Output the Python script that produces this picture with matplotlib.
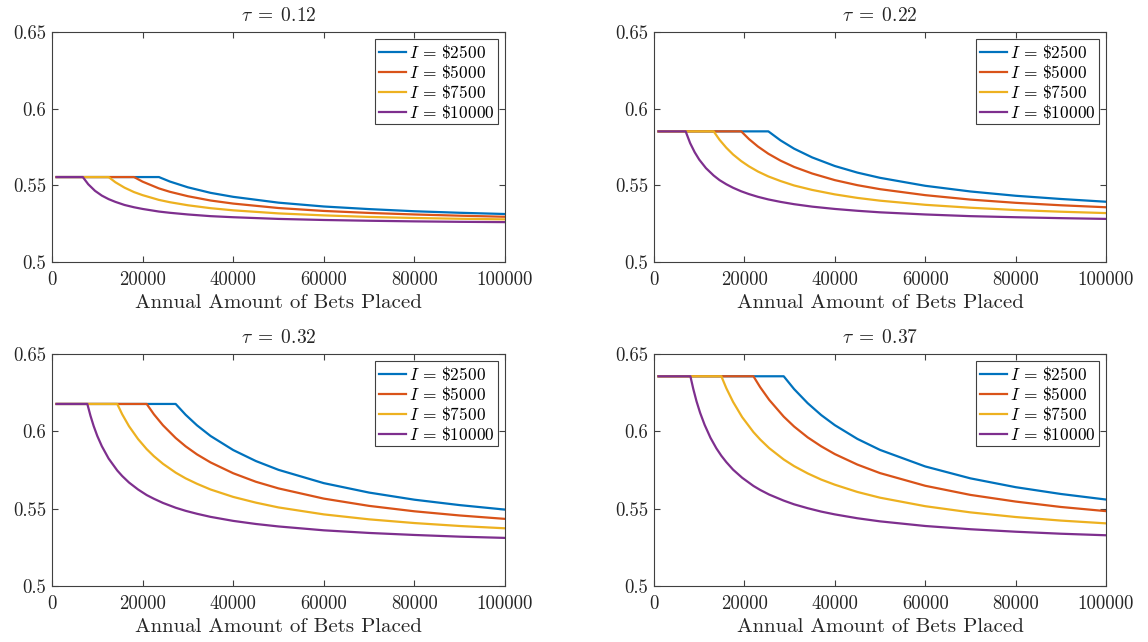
import matplotlib
matplotlib.use("Agg")
import matplotlib.pyplot as plt

plt.rcParams['font.family'] = 'serif'
plt.rcParams['font.serif'] = ['cmr10', 'DejaVu Serif']
plt.rcParams['mathtext.fontset'] = 'cm'
plt.rcParams['axes.formatter.use_mathtext'] = True

# ---------------- data ----------------
taus = [0.12, 0.22, 0.32, 0.37]
incomes = ["2500", "5000", "7500", "10000"]
colors = ["#0072BD", "#D95319", "#EDB120", "#7E2F8E"]
xlabel_text = "Annual Amount of Bets Placed"
xticks = [0, 20000, 40000, 60000, 80000, 100000]
yticks = [0.5, 0.55, 0.6, 0.65]
ytick_labels = ["0.5", "0.55", "0.6", "0.65"]

# tau = 0.12
x_t012 = [1000, 6800, 8000, 9500, 11000, 12500, 14000, 16000, 18100, 20000, 23600,
          26000, 30000, 35000, 40000, 50000, 60000, 70000, 80000, 90000, 100000]
y_t012_2500 = [0.5554, 0.5554, 0.5554, 0.5554, 0.5554, 0.5554, 0.5554, 0.5554, 0.5554, 0.5554, 0.5554,
               0.5525, 0.5487, 0.5451, 0.5425, 0.5387, 0.5362, 0.5345, 0.5331, 0.5321, 0.5313]
y_t012_5000 = [0.5554, 0.5554, 0.5554, 0.5554, 0.5554, 0.5554, 0.5554, 0.5554, 0.5554,
               0.5524, 0.5480, 0.5458, 0.5429, 0.5401, 0.5381, 0.5352, 0.5333, 0.5320, 0.5310, 0.5302, 0.5295]
y_t012_7500 = [0.5554, 0.5554, 0.5554, 0.5554, 0.5554, 0.5554,
               0.5520, 0.5485, 0.5456, 0.5436, 0.5405, 0.5390, 0.5370, 0.5351, 0.5337, 0.5317,
               0.5304, 0.5294, 0.5287, 0.5282, 0.5278]
y_t012_10000 = [0.5554, 0.5554, 0.5507, 0.5464, 0.5433, 0.5410, 0.5392, 0.5372, 0.5357, 0.5346, 0.5329,
                0.5321, 0.5310, 0.5299, 0.5292, 0.5281, 0.5274, 0.5269, 0.5265, 0.5262, 0.5260]

# tau = 0.22
x_t022 = [1000, 7000, 8000, 9000, 10000, 11500, 13200, 14500, 16000, 17500, 19300, 21000, 23000,
          25300, 28000, 31000, 35000, 40000, 45000, 50000, 60000, 70000, 80000, 90000, 100000]
y_t022_2500 = [0.5852, 0.5852, 0.5852, 0.5852, 0.5852, 0.5852, 0.5852, 0.5852, 0.5852, 0.5852, 0.5852,
               0.5852, 0.5852, 0.5852,
               0.5793, 0.5739, 0.5682, 0.5626, 0.5583, 0.5549, 0.5497, 0.5460, 0.5432, 0.5411, 0.5393]
y_t022_5000 = [0.5852, 0.5852, 0.5852, 0.5852, 0.5852, 0.5852, 0.5852, 0.5852, 0.5852, 0.5852, 0.5852,
               0.5802, 0.5753, 0.5706, 0.5661, 0.5620, 0.5577, 0.5534, 0.5501, 0.5475, 0.5436,
               0.5407, 0.5386, 0.5370, 0.5357]
y_t022_7500 = [0.5852, 0.5852, 0.5852, 0.5852, 0.5852, 0.5852, 0.5852,
               0.5797, 0.5745, 0.5701, 0.5658, 0.5624, 0.5590, 0.5558, 0.5528, 0.5499, 0.5470,
               0.5441, 0.5418, 0.5400, 0.5373, 0.5354, 0.5339, 0.5328, 0.5319]
y_t022_10000 = [0.5852, 0.5852, 0.5775, 0.5716, 0.5668, 0.5612, 0.5564, 0.5534, 0.5507, 0.5484, 0.5461,
                0.5443, 0.5425, 0.5408, 0.5392, 0.5377, 0.5361, 0.5346, 0.5334, 0.5324, 0.5310,
                0.5299, 0.5292, 0.5286, 0.5281]

# tau = 0.32
x_t032 = [1000, 7800, 8500, 9200, 10000, 11000, 12500, 14400, 15500, 17000, 19000, 20900, 22500,
          24500, 27300, 29500, 32000, 35000, 40000, 45000, 50000, 60000, 70000, 80000, 90000, 100000]
y_t032_2500 = [0.6177, 0.6177, 0.6177, 0.6177, 0.6177, 0.6177, 0.6177, 0.6177, 0.6177, 0.6177, 0.6177,
               0.6177, 0.6177, 0.6177, 0.6177,
               0.6107, 0.6039, 0.5970, 0.5879, 0.5808, 0.5751, 0.5665, 0.5604, 0.5558, 0.5523, 0.5494]
y_t032_5000 = [0.6177, 0.6177, 0.6177, 0.6177, 0.6177, 0.6177, 0.6177, 0.6177, 0.6177, 0.6177, 0.6177,
               0.6177,
               0.6110, 0.6039, 0.5957, 0.5903, 0.5851, 0.5799, 0.5729, 0.5674, 0.5631, 0.5565,
               0.5518, 0.5483, 0.5456, 0.5434]
y_t032_7500 = [0.6177, 0.6177, 0.6177, 0.6177, 0.6177, 0.6177, 0.6177, 0.6177,
               0.6110, 0.6033, 0.5950, 0.5885, 0.5839, 0.5790, 0.5733, 0.5696, 0.5661, 0.5624,
               0.5576, 0.5539, 0.5508, 0.5463, 0.5431, 0.5407, 0.5388, 0.5373]
y_t032_10000 = [0.6177, 0.6177, 0.6100, 0.6034, 0.5970, 0.5904, 0.5824, 0.5747, 0.5711, 0.5669, 0.5624,
                0.5588, 0.5564, 0.5537, 0.5506, 0.5486, 0.5467, 0.5447, 0.5421, 0.5401, 0.5385,
                0.5360, 0.5343, 0.5330, 0.5319, 0.5311]

# tau = 0.37
x_t037 = [1000, 8050, 8700, 9400, 10200, 11200, 12500, 13800, 14900, 16000, 17500, 19500, 22000,
          23500, 25500, 28700, 31000, 34000, 37000, 40000, 45000, 50000, 60000, 70000, 80000,
          90000, 100000]
y_t037_2500 = [0.6356, 0.6356, 0.6356, 0.6356, 0.6356, 0.6356, 0.6356, 0.6356, 0.6356, 0.6356, 0.6356,
               0.6356, 0.6356, 0.6356, 0.6356, 0.6356,
               0.6273, 0.6182, 0.6105, 0.6040, 0.5951, 0.5880, 0.5773, 0.5696, 0.5639, 0.5595, 0.5559]
y_t037_5000 = [0.6356, 0.6356, 0.6356, 0.6356, 0.6356, 0.6356, 0.6356, 0.6356, 0.6356, 0.6356, 0.6356,
               0.6356, 0.6356,
               0.6285, 0.6203, 0.6095, 0.6031, 0.5961, 0.5903, 0.5853, 0.5785, 0.5730, 0.5648,
               0.5589, 0.5546, 0.5511, 0.5484]
y_t037_7500 = [0.6356, 0.6356, 0.6356, 0.6356, 0.6356, 0.6356, 0.6356, 0.6356, 0.6356,
               0.6279, 0.6190, 0.6092, 0.5995, 0.5947, 0.5891, 0.5818, 0.5775, 0.5728, 0.5688,
               0.5655, 0.5608, 0.5571, 0.5516, 0.5476, 0.5446, 0.5423, 0.5405]
y_t037_10000 = [0.6356, 0.6356, 0.6273, 0.6195, 0.6120, 0.6042, 0.5958, 0.5890, 0.5842, 0.5801, 0.5752,
                0.5700, 0.5647, 0.5621, 0.5591, 0.5552, 0.5528, 0.5503, 0.5481, 0.5463, 0.5438,
                0.5418, 0.5388, 0.5367, 0.5351, 0.5338, 0.5328]

panels = [
    (x_t012, [y_t012_2500, y_t012_5000, y_t012_7500, y_t012_10000]),
    (x_t022, [y_t022_2500, y_t022_5000, y_t022_7500, y_t022_10000]),
    (x_t032, [y_t032_2500, y_t032_5000, y_t032_7500, y_t032_10000]),
    (x_t037, [y_t037_2500, y_t037_5000, y_t037_7500, y_t037_10000]),
]

# ---------------- figure ----------------
W, H = 1148, 642
fig = plt.figure(figsize=(W / 100, H / 100), dpi=100)

boxes = [
    (52, 32, 453, 230),
    (654, 32, 452, 230),
    (52, 354, 453, 232),
    (654, 354, 452, 232),
]

axis_col = "#404040"
text_col = "#262626"

for i, (tau, (xs, ys_list), box) in enumerate(zip(taus, panels, boxes)):
    l, t, w, h = box
    ax = fig.add_axes([l / W, 1 - (t + h) / H, w / W, h / H])
    for inc, ys, col in zip(incomes, ys_list, colors):
        ax.plot(xs, ys, color=col, lw=1.6, label=r'$I\,=\,\$%s$' % inc,
                solid_joinstyle='round')
    ax.set_xlim(0, 100000)
    ax.set_ylim(0.5, 0.65)
    ax.set_xticks(xticks)
    ax.set_xticklabels([str(v) for v in xticks])
    ax.set_yticks(yticks)
    ax.set_yticklabels(ytick_labels)
    ax.tick_params(direction='in', top=True, right=True, length=4, width=0.8,
                   colors=axis_col, labelcolor=text_col, labelsize=13.5)
    ax.tick_params(axis='x', pad=6.5)
    ax.tick_params(axis='y', pad=4)
    for sp in ax.spines.values():
        sp.set_color(axis_col)
        sp.set_linewidth(0.8)
    ax.set_title(r'$\tau\;=\;%s$' % tau, fontsize=14, color=text_col, pad=8)
    ax.set_xlabel(xlabel_text, fontsize=15, color=text_col, labelpad=4)
    leg = ax.legend(loc='upper right', fontsize=12.5, frameon=True, fancybox=False,
                    edgecolor=axis_col, framealpha=1, handlelength=1.6,
                    handletextpad=0.15, borderpad=0.2, labelspacing=0.05,
                    borderaxespad=0.4)
    leg.get_frame().set_linewidth(0.8)

fig.savefig("out.png", dpi=100)
